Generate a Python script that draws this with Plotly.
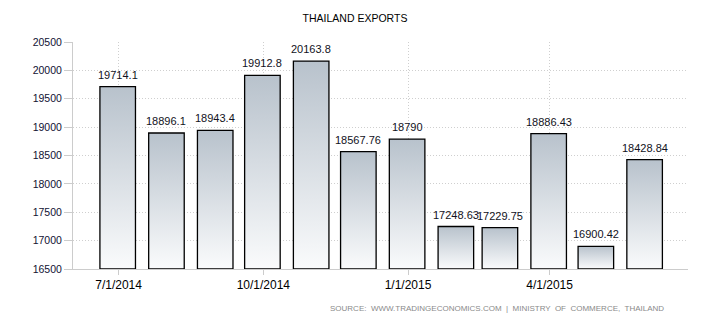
import plotly.graph_objects as go
import pandas as pd

months = ["2014-07-01", "2014-08-01", "2014-09-01", "2014-10-01", "2014-11-01", "2014-12-01",
          "2015-01-01", "2015-02-01", "2015-03-01", "2015-04-01", "2015-05-01", "2015-06-01"]
values = [19714.1, 18896.1, 18943.4, 19912.8, 20163.8, 18567.76,
          18790, 17248.63, 17229.75, 18886.43, 16900.42, 18428.84]
labels = ["19714.1", "18896.1", "18943.4", "19912.8", "20163.8", "18567.76",
          "18790", "17248.63", "17229.75", "18886.43", "16900.42", "18428.84"]
tick_dates = ["2014-07-01", "2014-10-01", "2015-01-01", "2015-04-01"]
tick_text = ["7/1/2014", "10/1/2014", "1/1/2015", "4/1/2015"]
y_min, y_max = 16500, 20500

half = pd.Timedelta(hours=11.3 * 24)
shift = pd.Timedelta(hours=14)
fig = go.Figure()
for m, v in zip(months, values):
    c = pd.Timestamp(m) - shift
    xs = [c - half, c - half, c + half, c + half, c - half]
    ys = [y_min, v, v, y_min, y_min]
    fig.add_trace(go.Scatter(
        x=xs, y=ys, mode="lines", fill="toself",
        fillgradient=dict(type="vertical",
                          colorscale=[[0, "#fafbfc"], [1, "#b8c2cc"]]),
        line=dict(color="#000000", width=1.3),
        hoverinfo="skip", showlegend=False))

annotations = []
for m, v, t in zip(months, values, labels):
    annotations.append(dict(
        x=pd.Timestamp(m) - shift, y=v, xref="x", yref="y", text=t, showarrow=False,
        xanchor="center", yanchor="bottom", yshift=4,
        font=dict(family="Liberation Sans", size=11, color="#111122")))
annotations.append(dict(
    text="SOURCE:  WWW.TRADINGECONOMICS.COM  |  MINISTRY  OF  COMMERCE,  THAILAND",
    xref="paper", yref="paper", x=1 - 22 / 615, y=-0.175, xanchor="right", yanchor="middle",
    showarrow=False, font=dict(family="Liberation Sans", size=8, color="#8a8a8a")))

fig.update_layout(
    width=710, height=325,
    margin=dict(l=73, r=22, t=42, b=56),
    paper_bgcolor="white", plot_bgcolor="white",
    title=dict(text="THAILAND EXPORTS", x=0.5, xanchor="center", y=0.945, yanchor="middle",
               font=dict(family="Liberation Sans", size=10.5, color="#000000")),
    annotations=annotations,
)
fig.update_xaxes(
    type="date", range=["2014-06-02", "2015-06-28"],
    tickvals=tick_dates, ticktext=tick_text,
    showgrid=True, gridcolor="#cfcfcf", griddash="1px,2px", gridwidth=1,
    showline=True, linecolor="#cccccc", linewidth=1,
    ticks="outside", ticklen=5, tickcolor="#cccccc",
    tickfont=dict(family="Liberation Sans", size=12, color="#000000"),
    zeroline=False)
fig.update_yaxes(
    range=[y_min, y_max], dtick=500, tick0=16500, tickformat="d",
    showgrid=True, gridcolor="#cfcfcf", griddash="1px,2px", gridwidth=1,
    showline=True, linecolor="#cccccc", linewidth=1,
    ticks="outside", ticklen=8, tickcolor="#cccccc",
    tickfont=dict(family="Liberation Sans", size=10.5, color="#111133"),
    zeroline=False)

fig.write_html("out.html")
